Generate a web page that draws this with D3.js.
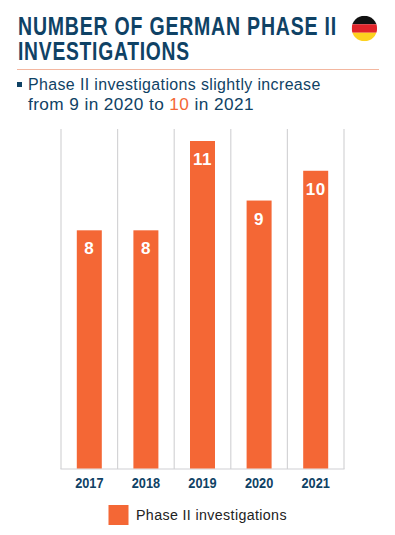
<!DOCTYPE html>
<html>
<head>
<meta charset="utf-8">
<script src="https://cdn.jsdelivr.net/npm/d3@7"></script>
<style>
  html, body { margin: 0; padding: 0; background: #fff; }
  svg { display: block; }
  text { font-family: "Liberation Sans", sans-serif; }
</style>
</head>
<body>
<svg id="chart" width="395" height="535"></svg>
<script>
const years = ["2017", "2018", "2019", "2020", "2021"];
const investigations = [8, 8, 11, 9, 10];
const seriesName = "Phase II investigations";
const titleLines = ["NUMBER OF GERMAN PHASE II", "INVESTIGATIONS"];
const flagColors = ["#111111", "#e1242a", "#fdd21f"];

const NAVY = "#0f4265";
const ORANGE = "#f46735";

const svg = d3.select("#chart");

// no condensed font here, so squeeze the text to the measured width
function fitWidth(sel, x, y, width) {
    sel.attr("x", 0).attr("y", 0);
    const sx = width / sel.node().getComputedTextLength();
    sel.attr("transform", `translate(${x},${y}) scale(${sx},1)`);
}

// header
titleLines.forEach((line, i) => {
    const t = svg.append("text")
        .attr("fill", NAVY)
        .attr("font-size", 25)
        .attr("font-weight", 700)
        .attr("letter-spacing", 1)
        .text(line);
    fitWidth(t, 18, 35 + i * 25, i == 0 ? 319 : 172);
});

svg.append("line")
    .attr("x1", 17).attr("x2", 379)
    .attr("y1", 69.5).attr("y2", 69.5)
    .attr("stroke", "#f3b7a0");

svg.append("rect")
    .attr("x", 17).attr("y", 82)
    .attr("width", 5).attr("height", 5)
    .attr("fill", NAVY);

const sub1 = svg.append("text")
    .attr("fill", NAVY)
    .attr("font-size", 17)
    .attr("letter-spacing", 0.4)
    .text("Phase II investigations slightly increase");
fitWidth(sub1, 28, 90, 293);

const sub2 = svg.append("text")
    .attr("fill", NAVY)
    .attr("font-size", 17)
    .attr("letter-spacing", 0.4);
sub2.append("tspan").text("from 9 in 2020 to ");
sub2.append("tspan").attr("fill", ORANGE).text("10");
sub2.append("tspan").text(" in 2021");
fitWidth(sub2, 28, 110, 226);

// flag, clipped to a circle
const flagR = 12.7, flagX = 364.4, flagY = 28.5;
svg.append("clipPath").attr("id", "flagClip")
    .append("circle").attr("cx", flagX).attr("cy", flagY).attr("r", flagR);
const flagBand = d3.scaleBand()
    .domain(d3.range(flagColors.length))
    .range([flagY - flagR, flagY + flagR]);
svg.append("g").attr("clip-path", "url(#flagClip)")
    .selectAll("rect")
    .data(flagColors)
    .join("rect")
    .attr("x", flagX - flagR)
    .attr("y", (d, i) => flagBand(i))
    .attr("width", flagR * 2)
    .attr("height", flagBand.bandwidth())
    .attr("fill", d => d);

// chart
const xScale = d3.scaleBand()
    .domain(years)
    .range([61, 344]);
const barWidth = 25;
const yScale = d3.scaleLinear().domain([0, 11]).range([468.5, 141]);

// vertical separators
svg.selectAll("line.grid")
    .data(years.concat("end"))
    .join("line")
    .attr("class", "grid")
    .attr("x1", (d, i) => 61 + i * xScale.step())
    .attr("x2", (d, i) => 61 + i * xScale.step())
    .attr("y1", 129).attr("y2", 469)
    .attr("stroke", "#d4d4d6")
    .attr("stroke-width", 1.2);

svg.append("line")
    .attr("x1", 60.5).attr("x2", 344.5)
    .attr("y1", 469).attr("y2", 469)
    .attr("stroke", "#cfd0d3")
    .attr("stroke-width", 1.2);

svg.selectAll("rect.bar")
    .data(investigations)
    .join("rect")
    .attr("class", "bar")
    .attr("x", (d, i) => xScale(years[i]) + (xScale.bandwidth() - barWidth) / 2)
    .attr("y", d => yScale(d))
    .attr("width", barWidth)
    .attr("height", d => yScale(0) - yScale(d))
    .attr("fill", ORANGE);

svg.selectAll("text.value")
    .data(investigations)
    .join("text")
    .attr("class", "value")
    .attr("x", (d, i) => xScale(years[i]) + xScale.bandwidth() / 2)
    .attr("y", d => yScale(d) + 24)
    .attr("text-anchor", "middle")
    .attr("fill", "#fff")
    .attr("font-size", 17)
    .attr("font-weight", 700)
    .attr("letter-spacing", 0.5)
    .text(d => d);

const xAxis = svg.append("g")
    .attr("transform", "translate(0,469)")
    .call(d3.axisBottom(xScale).tickSize(0).tickPadding(8));
xAxis.select(".domain").remove();
// tick groups carry the x position, so the squeeze stays centred on the tick
xAxis.selectAll("text")
    .attr("fill", NAVY)
    .attr("font-size", 15)
    .attr("font-weight", 700)
    .attr("font-family", "\"Liberation Sans\", sans-serif")
    .attr("transform", "scale(0.85,1)");

// legend
svg.append("rect")
    .attr("x", 108.5).attr("y", 505)
    .attr("width", 20).attr("height", 20)
    .attr("fill", ORANGE);
const legendText = svg.append("text")
    .attr("fill", "#222")
    .attr("font-size", 15.5)
    .attr("letter-spacing", 0.4)
    .text(seriesName);
fitWidth(legendText, 136, 520, 151);
</script>
</body>
</html>
